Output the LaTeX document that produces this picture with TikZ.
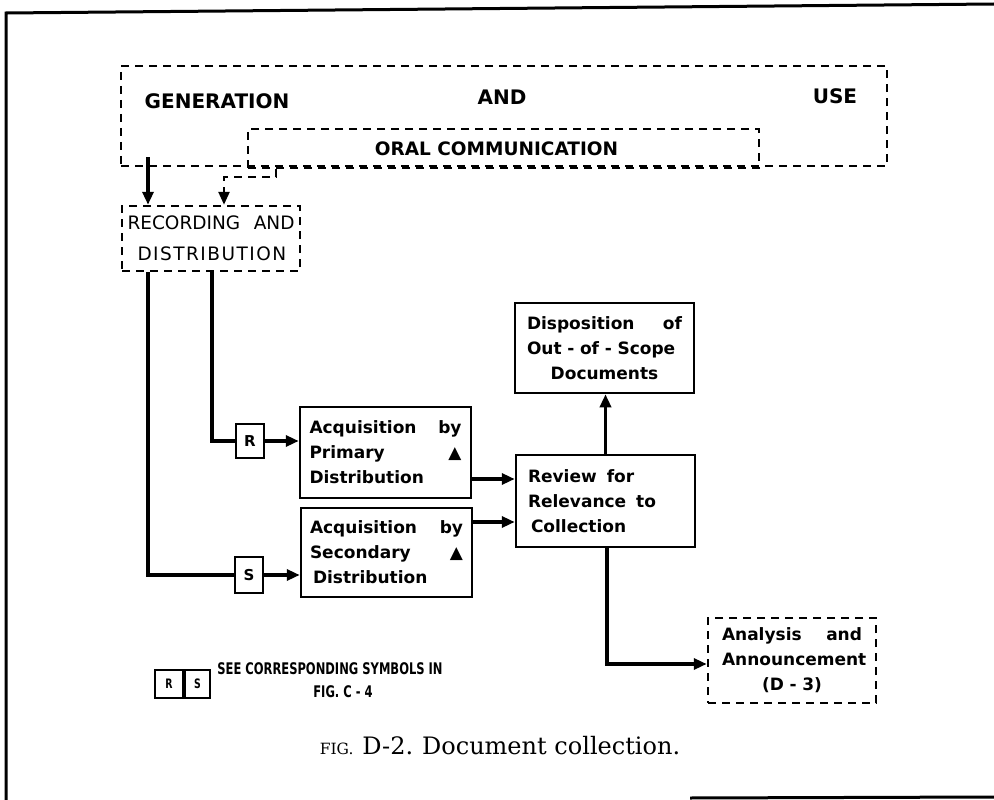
\documentclass[tikz,border=0pt]{standalone}
\usepackage{fontspec}
\setmainfont{Liberation Serif}
\newfontfamily\dvb{DejaVu Sans}
\newfontfamily\dvserif{DejaVu Serif}
\newfontfamily\dvcond[FakeStretch=0.72]{DejaVu Sans}
\usetikzlibrary{arrows.meta}
\tikzset{
  box/.style={draw, line width=2.5pt, inner sep=0pt, align=left,
    font=\dvb\bfseries\fontsize{17}{25}\selectfont},
  dbox/.style={box, dash pattern=on 8pt off 6pt},
  conn/.style={line width=3.8pt},
  arr/.style={conn, -{Triangle[length=13pt,width=11pt]}},
  darr/.style={line width=2.5pt, dash pattern=on 8pt off 6pt, -{Triangle[length=13pt,width=11pt]}},
  big/.style={font=\dvb\bfseries\fontsize{20}{24}\selectfont, inner sep=0pt},
  sym/.style={draw, line width=2.2pt, inner sep=0pt, font=\dvb\bfseries\fontsize{15}{15}\selectfont},
  legsym/.style={draw, line width=1.8pt, inner sep=0pt, font=\dvcond\bfseries\fontsize{13}{13}\selectfont},
  legtxt/.style={inner sep=0pt, font=\dvcond\bfseries\fontsize{16}{16}\selectfont},
}
\begin{document}
\begin{tikzpicture}[x=1pt,y=-1pt]
\useasboundingbox (0,0) rectangle (994,800);
% page frame
\draw[line width=3pt] (994,4) -- (6,13) -- (6,800);
\draw[line width=3pt] (690,798) -- (994,797);

% top boxes
\node[dbox, minimum width=766, minimum height=100] (gen) at (504,116) {};
\node[big] (tgen) at (217,101) {GENERATION};
\node[big] (tand) at (502,97) {AND};
\node[big] (tuse) at (835,96) {USE};
\node[dbox, minimum width=511, minimum height=39, font=\dvb\bfseries\fontsize{18.5}{20}\selectfont] (oral) at (503.5,148.5) {\hspace*{-14pt}ORAL COMMUNICATION};

% recording
\node[dbox, minimum width=178, minimum height=65, text width=167,
  font=\dvb\fontsize{18.5}{31}\selectfont] (rec) at (211,238.5)
  {RECORDING\hfill AND\\\hspace*{10pt}{\addfontfeature{LetterSpace=8}DISTRIBUTION}};

% symbols
\node[sym, minimum width=28, minimum height=34] (Rb) at (250,441) {R};
\node[sym, minimum width=28, minimum height=36] (Sb) at (249,575) {S};

% acquisition boxes
\node[box, minimum width=171, minimum height=91, text width=152] (prim) at (385.5,452.5)
  {Acquisition\hfill by\\Primary\hfill ▲\\Distribution};
\node[box, minimum width=171, minimum height=89, text width=153] (sec) at (386.5,552.5)
  {Acquisition\hfill by\\Secondary\hfill ▲\\\hspace*{3pt}Distribution};

% review, disposition, analysis
\node[box, minimum width=179, minimum height=92, text width=155] (rev) at (605.5,501)
  {Review\hspace{10pt}for\\Relevance\hspace{10pt}to\\\hspace*{3pt}Collection};
\node[box, minimum width=179, minimum height=90, text width=155] (disp) at (604.5,348)
  {Disposition\hfill of\\Out - of - Scope\\\makebox[155pt][c]{Documents}};
\node[dbox, minimum width=168, minimum height=85, text width=140] (ana) at (792,660.5)
  {Analysis\hfill and\\Announcement\\\makebox[140pt][c]{(D - 3)}};

% connectors top
\coordinate (g1) at (148,157);
\draw[arr] (g1) -- (g1 |- rec.north);
\coordinate (oa) at (276,177);
\coordinate (ob) at (224,177);
\draw[darr] (oral.south -| oa) -- (oa) -- (ob) -- (ob |- rec.north);

% recording to symbols
\coordinate (rx) at (212,441);
\draw[conn] (rec.south -| rx) |- (Rb.west);
\draw[arr] (Rb.east) -- (prim.west |- Rb.east);
\coordinate (sx) at (148,575);
\draw[conn] (rec.south -| sx) |- (Sb.west);
\draw[arr] (Sb.east) -- (sec.west |- Sb.east);

% acquisition to review
\coordinate (pr) at (0,479);
\draw[arr] (prim.east |- pr) -- (rev.west |- pr);
\coordinate (sr) at (0,522);
\draw[arr] (sec.east |- sr) -- (rev.west |- sr);

% review outputs
\draw[arr] (rev.north) -- (rev.north |- disp.south);
\coordinate (an) at (607,664);
\draw[arr] (rev.south -| an) |- (ana.west |- an);

% legend
\node[legsym, minimum width=28, minimum height=28] (lR) at (169,684) {R};
\node[legsym, minimum width=25, minimum height=28] (lS) at (197.5,684) {S};
\node[legtxt] (leg1) at (330,669) {SEE CORRESPONDING SYMBOLS IN};
\node[legtxt] (leg2) at (343,692) {FIG. C - 4};

% caption
\node[inner sep=0pt] (cap) at (500,746)
  {{\dvserif\fontsize{15.5}{15.5}\selectfont FIG.}\hspace{9pt}{\dvserif\fontsize{24}{24}\selectfont D-2.\hspace{9pt}Document collection.}};
\end{tikzpicture}
\end{document}
